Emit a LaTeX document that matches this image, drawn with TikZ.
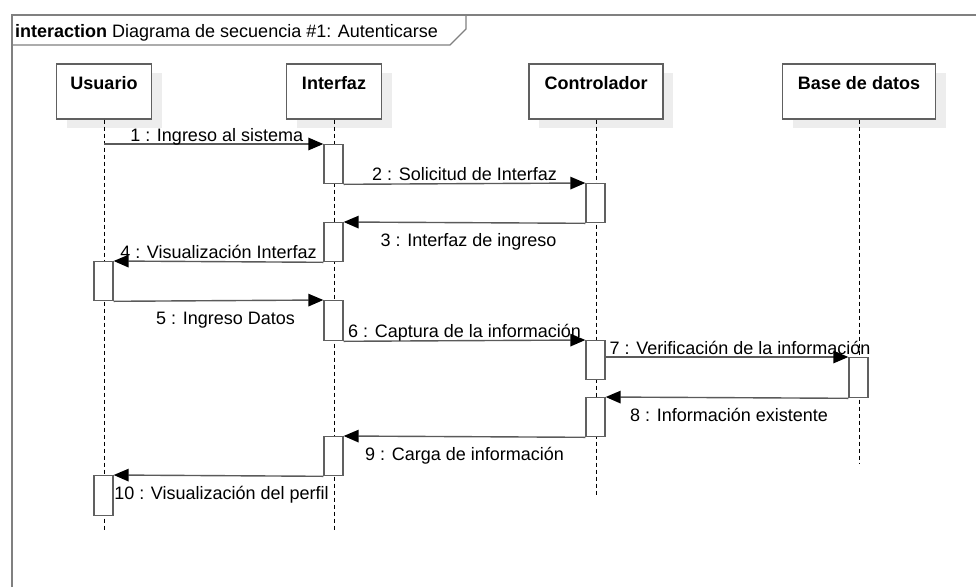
\documentclass[tikz,border=0pt]{standalone}
\usepackage{fontspec}
\setmainfont{Liberation Sans}
\usetikzlibrary{arrows.meta,shadows}
\definecolor{framegray}{HTML}{808080}
\definecolor{shadowgray}{HTML}{EDEDED}
\definecolor{boxgray}{HTML}{606060}
\definecolor{linegray}{HTML}{5A5A5A}
\begin{document}
\begin{tikzpicture}[x=1pt,y=-1pt,
  every node/.style={font=\fontsize{18}{21}\selectfont},
  hdr/.style={draw=boxgray, line width=1.3pt, fill=white, minimum height=55pt, inner sep=0pt,
    drop shadow={shadow xshift=10pt, shadow yshift=-9pt, fill=shadowgray, opacity=1}},
  hdrtext/.style={font=\fontsize{18}{21}\selectfont\bfseries, inner sep=0pt},
  act/.style={draw=boxgray, line width=1.3pt, fill=white, minimum width=19pt, inner sep=0pt, anchor=north},
  life/.style={draw=black, line width=0.9pt, dash pattern=on 4pt off 3pt},
  msg/.style={draw=linegray, line width=1.4pt, -{Triangle[length=15pt,width=12.5pt,color=black]}},
  abovelbl/.style={anchor=base, yshift=3pt, inner sep=0pt},
  belowlbl/.style={anchor=base, yshift=-24pt, inner sep=0pt},
]
\useasboundingbox (0,0) rectangle (976,587);
% frame
\draw[framegray, line width=2pt] (12,587) -- (12,15) -- (976,15);
\draw[framegray, line width=1.2pt] (12,45) -- (450,45) -- (466,29) -- (466,15);
\node[anchor=base west, inner sep=0pt] (title) at (15,37) {\textbf{interaction} Diagrama de secuencia \#1: Autenticarse};

% lifeline heads
\node[hdr, minimum width=95pt] (usr) at (104,91.5) {};
\node[hdr, minimum width=95pt] (intf) at (334,91.5) {};
\node[hdr, minimum width=134pt] (ctrl) at (596,91.5) {};
\node[hdr, minimum width=153pt] (bd) at (859,91.5) {};
\node[hdrtext] (usrT) at ([yshift=-20pt]usr.north) {Usuario};
\node[hdrtext] (intfT) at ([yshift=-20pt]intf.north) {Interfaz};
\node[hdrtext] (ctrlT) at ([yshift=-20pt]ctrl.north) {Controlador};
\node[hdrtext] (bdT) at ([yshift=-20pt]bd.north) {Base de datos};

% lifelines
\coordinate (usrEnd) at (104,530);
\coordinate (intfEnd) at (334,530);
\coordinate (ctrlEnd) at (596,495);
\coordinate (bdEnd) at (859,463);
\draw[life] (usr.south) -- (usrEnd);
\draw[life] (intf.south) -- (intfEnd);
\draw[life] (ctrl.south) -- (ctrlEnd);
\draw[life] (bd.south) -- (bdEnd);

% activations
\node[act, minimum height=39pt] (I1) at (333.5,144) {};
\node[act, minimum height=39pt] (C1) at (595.5,183) {};
\node[act, minimum height=39pt] (I2) at (333.5,222) {};
\node[act, minimum height=39pt] (U1) at (103.5,261) {};
\node[act, minimum height=40pt] (I3) at (333.5,300) {};
\node[act, minimum height=39pt] (C2) at (595.5,340) {};
\node[act, minimum height=40pt] (B1) at (858.5,357) {};
\node[act, minimum height=39pt] (C3) at (595.5,397) {};
\node[act, minimum height=39pt] (I4) at (333.5,436) {};
\node[act, minimum height=40pt] (U2) at (103.5,475) {};

% messages
\draw[msg] (usr.south |- I1.north west) -- node[abovelbl, xshift=3pt] (m1) {1 : Ingreso al sistema} (I1.north west);
\draw[msg] (I1.south east) -- node[abovelbl] (m2) {2 : Solicitud de Interfaz} (C1.north west);
\draw[msg] (C1.south west) -- node[belowlbl, xshift=4pt] (m3) {3 : Interfaz de ingreso} (I2.north east);
\draw[msg] (I2.south west) -- node[abovelbl] (m4) {4 : Visualización Interfaz} (U1.north east);
\draw[msg] (U1.south east) -- node[belowlbl, xshift=7pt] (m5) {5 : Ingreso Datos} (I3.north west);
\draw[msg] (I3.south east) -- node[abovelbl] (m6) {6 : Captura de la información} (C2.north west);
\draw[msg] (C2.east |- B1.north west) -- node[abovelbl, xshift=13pt] (m7) {7 : Verificación de la información} (B1.north west);
\draw[msg] (B1.south west) -- node[belowlbl, xshift=2pt] (m8) {8 : Información existente} (C3.north east);
\draw[msg] (C3.south west) -- node[belowlbl] (m9) {9 : Carga de información} (I4.north east);
\draw[msg] (I4.south west) -- node[belowlbl, xshift=3pt] (m10) {10 : Visualización del perfil} (U2.north east);
\end{tikzpicture}
\end{document}
